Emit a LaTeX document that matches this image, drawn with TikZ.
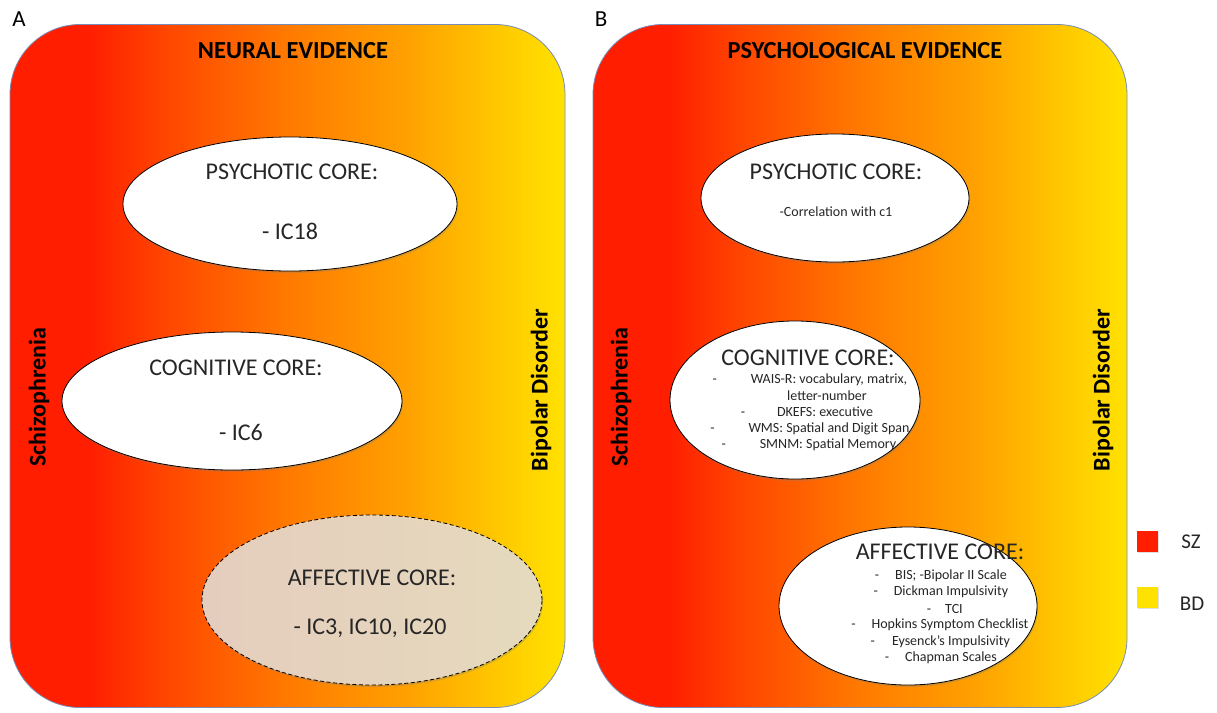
\documentclass[tikz,border=0pt]{standalone}
\usepackage{fontspec}
\setmainfont{Carlito}
\usetikzlibrary{shapes.geometric,shadows}

\definecolor{szred}{RGB}{255,30,0}
\definecolor{midred}{RGB}{255,70,0}
\definecolor{midorange}{RGB}{255,122,0}
\definecolor{lightorange}{RGB}{255,162,0}
\definecolor{darkyellow}{RGB}{255,200,0}
\definecolor{bdyellow}{RGB}{255,226,0}
\definecolor{edgeblue}{RGB}{120,140,185}
\definecolor{coregray}{RGB}{232,224,216}

\pgfdeclarehorizontalshading{szbd}{100bp}{color(0bp)=(szred); color(25bp)=(szred);
  color(32bp)=(szred); color(39bp)=(midred); color(50bp)=(midorange);
  color(61bp)=(lightorange); color(69bp)=(darkyellow); color(75bp)=(bdyellow);
  color(100bp)=(bdyellow)}

\begin{document}
\begin{tikzpicture}[x=1pt,y=-1pt]
  \tikzstyle{panel}=[draw=edgeblue, line width=0.8pt, rounded corners=70pt, shading=szbd, inner sep=0pt]
  \tikzstyle{core}=[ellipse, draw=black, line width=0.8pt, fill=white, inner sep=0pt,
    drop shadow={opacity=0.3, shadow xshift=1pt, shadow yshift=-2pt}]
  \tikzstyle{weak}=[dashed, dash pattern=on 4pt off 2.5pt, fill=coregray, fill opacity=0.85]
  \tikzstyle{title}=[font=\fontsize{24.5}{28}\selectfont\bfseries]
  \tikzstyle{head}=[font=\fontsize{24}{28}\selectfont, text=black!85]
  \tikzstyle{item}=[font=\fontsize{24}{28}\selectfont, text=black!85]
  \tikzstyle{small}=[font=\fontsize{14}{16}\selectfont, text=black!85]
  \tikzstyle{side}=[font=\fontsize{24}{28}\selectfont\bfseries, rotate=90]
  \tikzstyle{key}=[minimum size=21pt, inner sep=0pt, drop shadow={opacity=0.25, shadow xshift=1pt, shadow yshift=-1.5pt}]
  \tikzstyle{keytext}=[font=\fontsize{21}{24}\selectfont, text=black!85]

  \useasboundingbox (0,0) rectangle (1217,712);

  % panels
  \node[panel, minimum width=555pt, minimum height=683pt] (panA) at (287.5,366) {};
  \node[panel, minimum width=534pt, minimum height=683pt] (panB) at (860,366)   {};

  \node[font=\fontsize{23}{26}\selectfont] (labA) at (19,19)  {A};
  \node[font=\fontsize{23}{26}\selectfont] (labB) at (601,19) {B};
  \node[title] (titA) at (293,51) {NEURAL EVIDENCE};
  \node[title] (titB) at (865,51) {PSYCHOLOGICAL EVIDENCE};

  \node[side] (szA) at (39,397)   {Schizophrenia};
  \node[side] (bdA) at (541,390)  {Bipolar Disorder};
  \node[side] (szB) at (621,397)  {Schizophrenia};
  \node[side] (bdB) at (1103,390) {Bipolar Disorder};

  % neural evidence
  \node[core, minimum width=334pt, minimum height=134pt] (psyA) at (290,204) {};
  \node[core, minimum width=340pt, minimum height=138pt] (cogA) at (232,401) {};
  \node[core, weak, minimum width=340pt, minimum height=170pt] (affA) at (372,600) {};

  \node[head] (psyAh) at (292,172) {PSYCHOTIC CORE:};
  \node[item] (psyAi) at (290,231) {- IC18};
  \node[head] (cogAh) at (236,368) {COGNITIVE CORE:};
  \node[item] (cogAi) at (241,432) {- IC6};
  \node[head] (affAh) at (372,578) {AFFECTIVE CORE:};
  \node[item] (affAi) at (370,628) {- IC3, IC10, IC20};

  % psychological evidence
  \node[core, minimum width=268pt, minimum height=128pt] (psyB) at (835,198) {};
  \node[core, minimum width=250pt, minimum height=158pt] (cogB) at (795,400) {};
  \node[core, minimum width=258pt, minimum height=158pt] (affB) at (908,606) {};

  \node[head] (psyBh) at (836,172) {PSYCHOTIC CORE:};
  \node[small] (psyBi) at (836,212) {-Correlation with c1};

  \node[head] (cogBh) at (808,358) {COGNITIVE CORE:};
  \node[small] (cogB1) at (829,380) {\llap{-\hspace{34pt}}WAIS-R: vocabulary, matrix,};
  \node[small] (cogB2) at (827,396) {letter-number};
  \node[small] (cogB3) at (825,412) {\llap{-\hspace{32pt}}DKEFS: executive};
  \node[small] (cogB4) at (829,429) {\llap{-\hspace{34pt}}WMS: Spatial and Digit Span};
  \node[small] (cogB5) at (828,445) {\llap{-\hspace{34pt}}SMNM: Spatial Memory};

  \node[head] (affBh) at (940,552) {AFFECTIVE CORE:};
  \node[small] (affB1) at (951,576) {\llap{-\hspace{16pt}}BIS; -Bipolar II Scale};
  \node[small] (affB2) at (951,592) {\llap{-\hspace{16pt}}Dickman Impulsivity};
  \node[small] (affB3) at (954,609) {\llap{-\hspace{14pt}}TCI};
  \node[small] (affB4) at (950,625) {\llap{-\hspace{16pt}}Hopkins Symptom Checklist};
  \node[small] (affB5) at (951,642) {\llap{-\hspace{17pt}}Eysenck’s Impulsivity};
  \node[small] (affB6) at (951,658) {\llap{-\hspace{16pt}}Chapman Scales};

  % legend
  \node[key, fill=szred]    (keySZ) at (1147,541) {};
  \node[key, fill=bdyellow] (keyBD) at (1147,597) {};
  \node[keytext] (txtSZ) at (1191,542) {SZ};
  \node[keytext] (txtBD) at (1192,604) {BD};
\end{tikzpicture}
\end{document}
